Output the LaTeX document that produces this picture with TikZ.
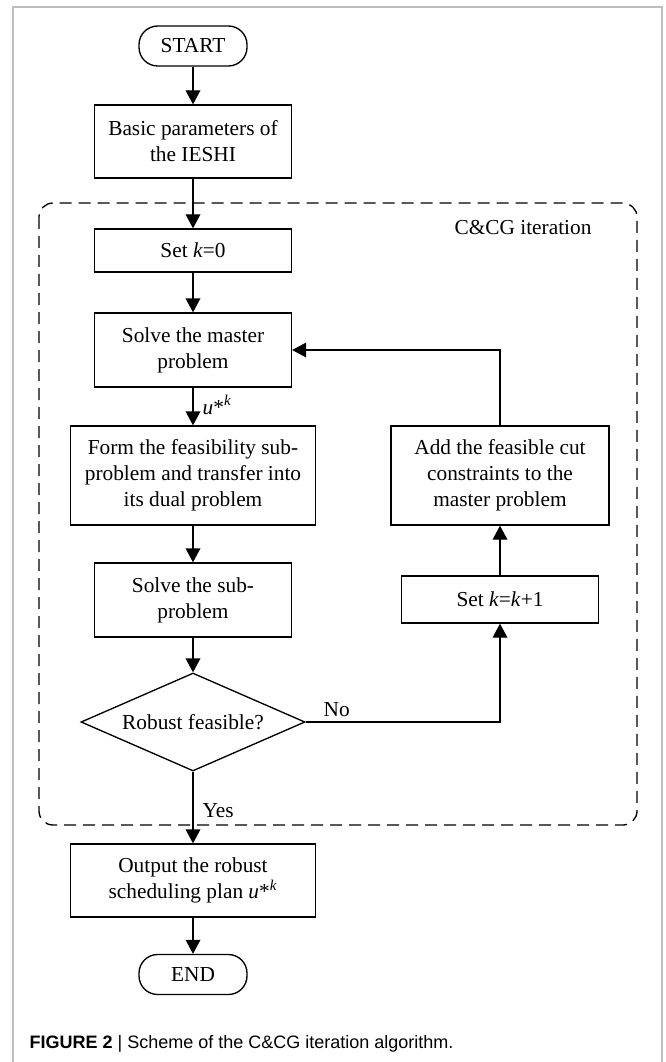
\documentclass[tikz,border=0pt]{standalone}
\usepackage{fontspec}
\setmainfont{Liberation Serif}
\newfontfamily\capfont{Liberation Sans}
\usetikzlibrary{arrows.meta,shapes.geometric}

\tikzset{every picture/.style={line width=1pt}}
\tikzset{
  procbox/.style={draw, rectangle, align=center, inner sep=0.75pt, minimum width=147.75pt, font=\fontsize{16}{19.5}\selectfont},
  termbox/.style={draw, rectangle, rounded corners=14pt, align=center, inner sep=0.75pt, minimum width=81pt, minimum height=30pt, font=\fontsize{16}{19.5}\selectfont},
  testbox/.style={draw, diamond, aspect=2.3, align=center, inner sep=0pt, minimum width=168pt, minimum height=73.5pt, font=\fontsize{16}{19.5}\selectfont},
  flowarrow/.style={-{Triangle[length=10.5pt,width=11pt]}},
  lbl/.style={inner sep=0.75pt, font=\fontsize{16}{19.5}\selectfont},
}

\begin{document}
\begin{tikzpicture}[x=0.75pt,y=0.75pt,yscale=-1,xscale=1]
\useasboundingbox (0,0) rectangle (665,1062);

%Frame
\draw [color={rgb, 255:red, 190; green, 190; blue, 190 }, line width=1.2pt] (13,1062) |- (662,7) -- (662,1062) ;
%Shape: Dashed frame of the loop
\draw [dash pattern=on 9pt off 5.25pt, rounded corners=10.5pt] (39,203) rectangle (637,825) ;

% Text Node
\node [termbox] (start) at (193,46) {START};
% Text Node
\node [procbox, minimum height=54.75pt] (basic) at (193,141.5) {Basic parameters of\\the IESHI};
% Text Node
\node [lbl, anchor=center] (iterlbl) at (523,228) {C\&CG iteration};
% Text Node
\node [procbox, minimum height=32.25pt] (setk0) at (193,250.5) {Set \textit{k}=0};
% Text Node
\node [procbox, minimum height=55.5pt] (master) at (193,350) {Solve the master\\problem};
% Text Node
\node [procbox, minimum width=183.75pt, minimum height=74.25pt] (form) at (193,475.5) {Form the feasibility sub-\\problem and transfer into\\its dual problem};
% Text Node
\node [procbox, minimum width=163.5pt, minimum height=74.25pt] (add) at (500,475.5) {Add the feasible cut\\constraints to the\\master problem};
% Text Node
\node [procbox, minimum height=55.5pt] (solvesub) at (193,600) {Solve the sub-\\problem};
% Text Node
\node [procbox, minimum height=35.25pt] (setk1) at (500,599.5) {Set \textit{k}=\textit{k}+1};
% Shape: Diamond
\node [testbox] (robust) at (193,722) {Robust feasible?};
% Text Node
\node [procbox, minimum width=183.75pt, minimum height=54.75pt] (output) at (193,880.5) {Output the robust\\scheduling plan \textit{u}*\textsuperscript{\textit{k}}};
% Text Node
\node [termbox] (end) at (193,974.5) {END};

%Straight Lines
\draw [flowarrow] (start) -- (basic) ;
\draw [flowarrow] (basic) -- (setk0) ;
\draw [flowarrow] (setk0) -- (master) ;
\draw [flowarrow] (master) -- (form) ;
\draw [flowarrow] (form) -- (solvesub) ;
\draw [flowarrow] (solvesub) -- (robust) ;
\draw [flowarrow] (robust.east) -| (setk1.south) ;
\draw [flowarrow] (setk1) -- (add) ;
\draw [flowarrow] (add.north) |- (master.east) ;
\draw [flowarrow] (robust) -- (output) ;
\draw [flowarrow] (output) -- (end) ;

% Text Node
\node [lbl, anchor=west] (ustar) at (201,405) {\textit{u}*\textsuperscript{\textit{k}}};
% Text Node
\node [lbl, anchor=south west] (lblno) at (322,718) {No};
% Text Node
\node [lbl, anchor=west] (lblyes) at (201,811) {Yes};

% Caption
\node [inner sep=0pt, anchor=base west, font=\capfont\fontsize{13.5}{15}\selectfont] (caption) at (29,1048) {\textbf{FIGURE 2} | Scheme of the C\&CG iteration algorithm.};

\end{tikzpicture}
\end{document}
